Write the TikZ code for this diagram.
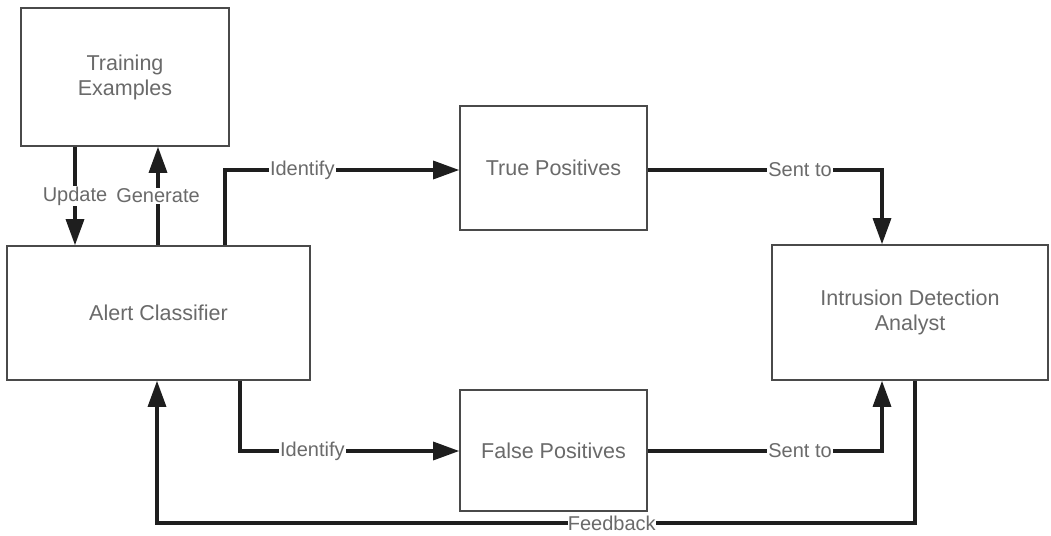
\documentclass[tikz,border=0pt]{standalone}
\usepackage{fontspec}
\setmainfont{Liberation Sans}
\usetikzlibrary{arrows.meta}
\definecolor{txt}{HTML}{6A6A6A}
\definecolor{edge}{HTML}{4A4A4A}
\definecolor{wire}{HTML}{1E1E1E}
\tikzset{
  box/.style={draw=edge, line width=1.6pt, fill=white, text=txt, align=center,
    font=\fontsize{21.5}{25}\selectfont, inner sep=0pt},
  conn/.style={draw=wire, line width=3.2pt,
    -{Triangle[length=26pt,width=18pt]}},
  lbl/.style={fill=white, text=txt, inner sep=1pt,
    font=\fontsize{20}{23}\selectfont}
}
\begin{document}
\begin{tikzpicture}[x=1pt,y=-1pt]
\useasboundingbox (0,0) rectangle (1051,535);

% boxes
\node[box, minimum width=208pt, minimum height=138pt] (te) at (125,77) {Training\\Examples};
\node[box, minimum width=303pt, minimum height=134pt] (ac) at (158.5,313) {Alert Classifier};
\node[box, minimum width=187pt, minimum height=124pt] (tp) at (553.5,168) {True Positives};
\node[box, minimum width=187pt, minimum height=121pt] (fp) at (553.5,450.5) {False Positives};
\node[box, minimum width=276pt, minimum height=135pt] (ida) at (910,312.5) {Intrusion Detection\\Analyst};

% guide columns and bends
\coordinate (xu) at (75,0);
\coordinate (xg) at (158,0);
\coordinate (xi1) at (225,170);
\coordinate (xi2) at (240,451);
\coordinate (xs) at (882,0);
\coordinate (xf) at (915,523);
\coordinate (xb) at (157,0);

% update / generate
\draw[conn] (xu |- te.south) -- node[lbl, pos=0.5] {Update} (xu |- ac.north);
\draw[conn] (xg |- ac.north) -- node[lbl, pos=0.5] {Generate} (xg |- te.south);

% identify
\draw[conn] (xi1 |- ac.north) -- (xi1) -- node[lbl, pos=0.33] {Identify} (tp.west |- xi1);
\draw[conn] (xi2 |- ac.south) -- (xi2) -- node[lbl, pos=0.33] {Identify} (fp.west |- xi2);

% sent to
\draw[conn] (tp.east |- xi1) -- node[lbl, pos=0.65] {Sent to} (xs |- xi1) -- (xs |- ida.north);
\draw[conn] (fp.east |- xi2) -- node[lbl, pos=0.65] {Sent to} (xs |- xi2) -- (xs |- ida.south);

% feedback
\draw[conn] (xf |- ida.south) -- (xf) -- node[lbl, inner sep=0pt, pos=0.4] {Feedback} (xb |- xf) -- (xb |- ac.south);
\end{tikzpicture}
\end{document}
